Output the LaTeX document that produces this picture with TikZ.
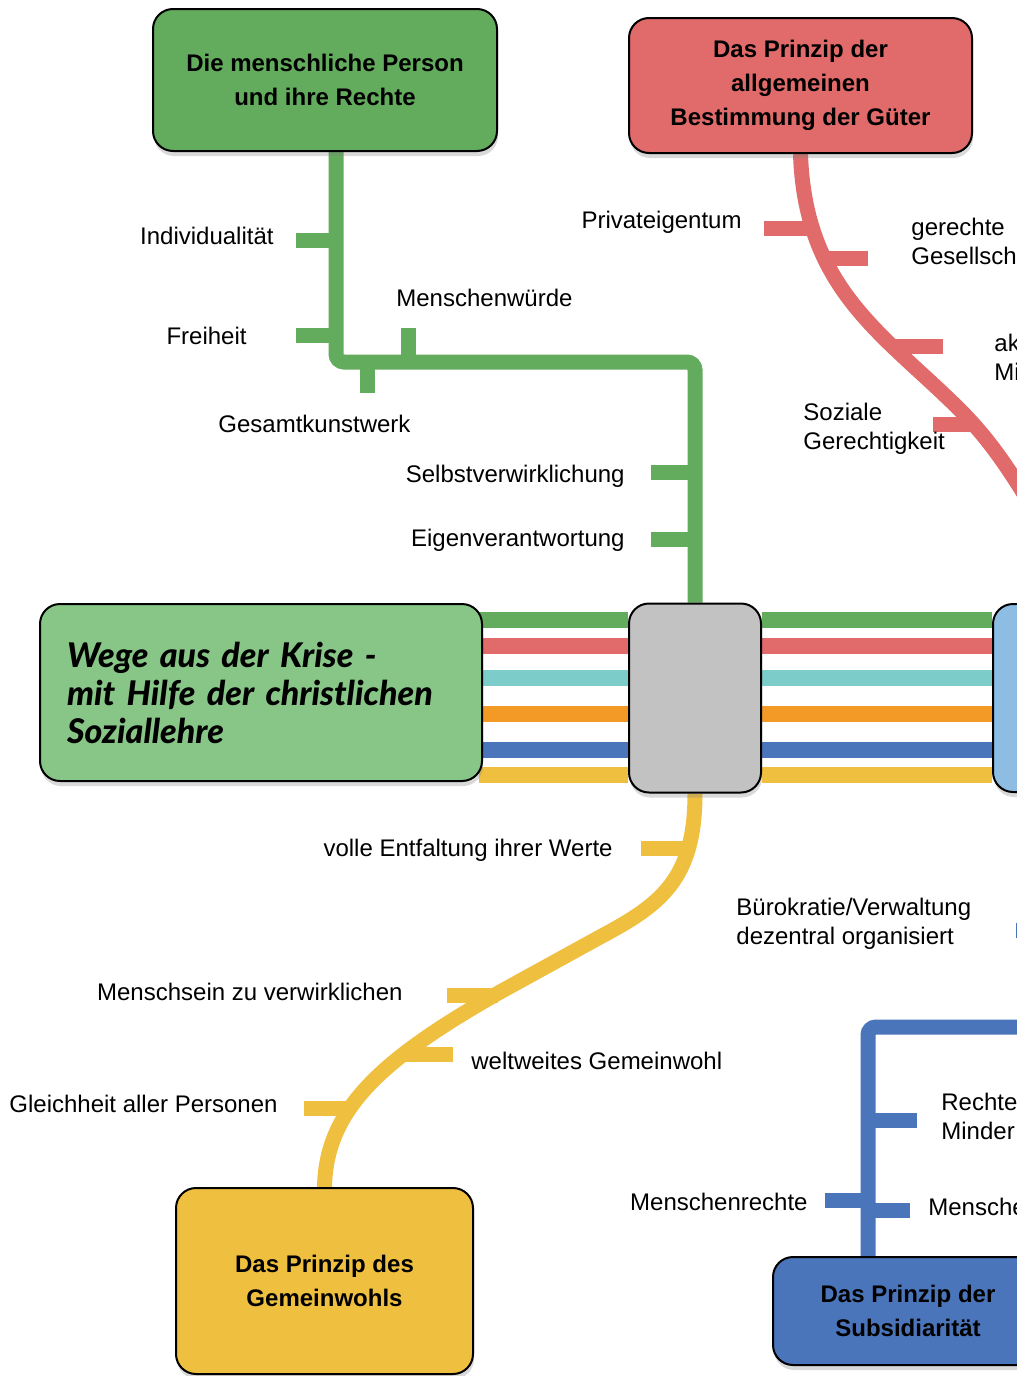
\documentclass[tikz,border=0pt]{standalone}
\usepackage{fontspec}
\setmainfont{Liberation Sans}
\newfontfamily\titlefont{Lato Black Italic}
\usetikzlibrary{shadows, backgrounds}
\definecolor{lineGreen}{RGB}{99,171,93}
\definecolor{lineRed}{RGB}{224,107,106}
\definecolor{lineCyan}{RGB}{124,204,201}
\definecolor{lineOrange}{RGB}{243,154,38}
\definecolor{lineBlue}{RGB}{74,117,186}
\definecolor{lineYellow}{RGB}{239,191,64}
\definecolor{boxMain}{RGB}{136,198,135}
\definecolor{hubGray}{RGB}{193,194,193}
\definecolor{boxLightBlue}{RGB}{141,189,227}
\tikzset{
    box/.style={draw=black, line width=1pt, rounded corners=10pt, align=center,
        font=\fontsize{12}{17}\selectfont\bfseries,
        drop shadow={shadow xshift=0.5pt, shadow yshift=-2.5pt, opacity=0.3}},
    lbl/.style={inner sep=0pt, align=left, font=\fontsize{12}{14.5}\selectfont},
    route/.style={line width=7.5pt},
    tick/.style={line width=7.5pt}
}

\begin{document}
\begin{tikzpicture}[x=0.5pt, y=-0.5pt]
    \useasboundingbox (0,0) rectangle (1017,1376);
    \clip (0,0) rectangle (1017,1376);

    % principle boxes
    \node[box, fill=lineGreen, minimum width=172pt, minimum height=71pt] (person) at (325,80)
        {Die menschliche Person\\und ihre Rechte};
    \node[box, fill=lineRed, minimum width=171.5pt, minimum height=67.5pt] (gueter) at (800.5,85.5)
        {Das Prinzip der\\allgemeinen\\Bestimmung der Güter};
    \node[box, fill=lineYellow, minimum width=148.5pt, minimum height=93pt] (gemeinwohl) at (324.5,1281)
        {Das Prinzip des\\Gemeinwohls};
    \node[box, fill=lineBlue, minimum width=135pt, minimum height=54pt] (subsid) at (908,1311)
        {Das Prinzip der\\Subsidiarität};

    % centre
    \node[box, fill=boxMain, minimum width=221pt, minimum height=88.5pt, align=left,
        text width=194pt, inner xsep=13.5pt,
        font=\titlefont\fontsize{17}{19}\selectfont] (krise) at (261,692.5)
        {Wege aus der Krise -\\mit Hilfe der christlichen\\Soziallehre};
    \node[box, fill=hubGray, minimum width=66pt, minimum height=94.5pt] (hub) at (695,698) {};
    \node[box, fill=boxLightBlue, minimum width=70pt, minimum height=94pt] (right) at (1063,698) {};

    \begin{scope}[on background layer]
        % bundle
        \foreach \col/\yy in {lineGreen/620, lineRed/646, lineCyan/678, lineOrange/714, lineBlue/750, lineYellow/775} {
            \draw[route, line width=8pt, \col] ([xshift=-2pt]krise.east |- 0,\yy) -- (hub.west |- 0,\yy);
            \draw[route, line width=8pt, \col] (hub.east |- 0,\yy) -- (right.west |- 0,\yy);
        }

        % green route
        \coordinate (gcorner) at (336,362);
        \draw[route, lineGreen, rounded corners=4pt] (gcorner |- person.south) -- (gcorner) -| (hub.north);
        \foreach \yy in {240,335}
            \draw[tick, lineGreen] (336,\yy) -- ++(-40,0);
        \draw[tick, lineGreen] (408,362) -- ++(0,-34);
        \draw[tick, lineGreen] (367,362) -- ++(0,31);
        \foreach \yy in {472,539}
            \draw[tick, lineGreen] (695,\yy) -- ++(-44,0);

        % red route
        \draw[route, lineRed] (gueter.south) .. controls (805,290) and (885,335) .. (960,410)
            .. controls (990,440) and (1010,470) .. (1040,520);
        \draw[tick, lineRed] (808,228) -- ++(-44,0);
        \draw[tick, lineRed] (822,258) -- ++(46,0);
        \draw[tick, lineRed] (895,346) -- ++(48,0);
        \draw[tick, lineRed] (970,424) -- ++(-37,0);

        % yellow route
        \draw[route, lineYellow] (hub.south) .. controls (695,880) and (660,905) .. (600,937) -- (500,992)
            .. controls (380,1060) and (326,1110) .. (gemeinwohl.north);
        \draw[tick, lineYellow] (689,848) -- ++(-48,0);
        \draw[tick, lineYellow] (498,995) -- ++(-51,0);
        \draw[tick, lineYellow] (405,1054) -- ++(48,0);
        \draw[tick, lineYellow] (352,1108) -- ++(-48,0);

        % blue route
        \coordinate (bcorner) at (868,1027);
        \draw[route, lineBlue, rounded corners=4pt] (subsid.north -| bcorner) -- (bcorner) -- ++(200,0);
        \draw[tick, lineBlue] (868,1120) -- ++(49,0);
        \draw[tick, lineBlue] (868,1200) -- ++(-43,0);
        \draw[tick, lineBlue] (868,1210) -- ++(42,0);
        \draw[tick, lineBlue] (1016,930) -- ++(30,0);
    \end{scope}

    % labels
    \node[lbl, anchor=east] (individ) at (274,236) {Individualität};
    \node[lbl, anchor=east] (freiheit) at (247,336) {Freiheit};
    \node[lbl, anchor=west] (wuerde) at (396,298) {Menschenwürde};
    \node[lbl, anchor=west] (kunstwerk) at (218,424) {Gesamtkunstwerk};
    \node[lbl, anchor=east] (selbst) at (625,476) {Selbstverwirklichung};
    \node[lbl, anchor=east] (eigen) at (625,540) {Eigenverantwortung};
    \node[lbl, anchor=east] (privat) at (742,222) {Privateigentum};
    \node[lbl, anchor=west] (gerecht) at (911,241) {gerechte\\Gesellsch};
    \node[lbl, anchor=west] (akmi) at (994,357) {ak\\Mi};
    \node[lbl, anchor=west] (sozial) at (803,429) {Soziale\\Gerechtigkeit};
    \node[lbl, anchor=east] (entfalt) at (613,850) {volle Entfaltung ihrer Werte};
    \node[lbl, anchor=east] (menschsein) at (403,992) {Menschsein zu verwirklichen};
    \node[lbl, anchor=west] (weltweit) at (471,1061) {weltweites Gemeinwohl};
    \node[lbl, anchor=east] (gleichheit) at (278,1104) {Gleichheit aller Personen};
    \node[lbl, anchor=west] (buero) at (736,924) {Bürokratie/Verwaltung\\dezentral organisiert};
    \node[lbl, anchor=west] (minder) at (941,1116) {Rechte\\Minder};
    \node[lbl, anchor=east] (menschenr) at (808,1202) {Menschenrechte};
    \node[lbl, anchor=west] (mensche) at (928,1207) {Mensche};
\end{tikzpicture}
\end{document}
